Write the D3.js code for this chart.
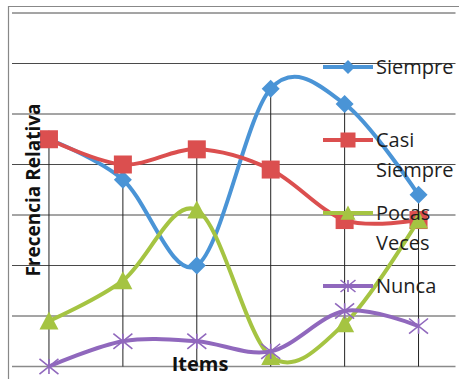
<!DOCTYPE html>
<html>
<head>
<meta charset="utf-8">
<script src="https://cdn.jsdelivr.net/npm/d3@7"></script>
<style>
  html, body { margin: 0; padding: 0; background: #fff; }
  svg { display: block; }
  text { font-family: "Open Sans", "DejaVu Sans", sans-serif; }
</style>
</head>
<body>
<script>
// Relative frequency of each answer per item
const items = ["Ítem 1", "Ítem 2", "Ítem 3", "Ítem 4", "Ítem 5", "Ítem 6"];
const siempre     = [0.45, 0.37, 0.20, 0.55, 0.52, 0.34];
const casiSiempre = [0.45, 0.40, 0.43, 0.39, 0.29, 0.29];
const pocasVeces  = [0.09, 0.17, 0.31, 0.02, 0.085, 0.29];
const nunca       = [0.00, 0.05, 0.05, 0.03, 0.11, 0.08];
const seriesNames = ["Siempre", "Casi Siempre", "Pocas Veces", "Nunca"];
const yTicks = [0, 0.1, 0.2, 0.3, 0.4, 0.5, 0.6, 0.7];

const series = [
  { name: seriesNames[0], values: siempre,     color: "#4A94D6", marker: "diamond" },
  { name: seriesNames[1], values: casiSiempre, color: "#DB4F4F", marker: "square" },
  { name: seriesNames[2], values: pocasVeces,  color: "#A5C442", marker: "triangle" },
  { name: seriesNames[3], values: nunca,       color: "#9068BD", marker: "cross" }
];

const W = 459, H = 379;
const svg = d3.select("body").append("svg").attr("width", W).attr("height", H);

const plot = { left: 12, right: 455.5, top: 13, bottom: 366.5 };
const x = d3.scaleBand().domain(items).range([plot.left, plot.right]).padding(0);
const cx = d => x(d) + x.bandwidth() / 2;
const y = d3.scaleLinear().domain([0, 0.7]).range([plot.bottom, plot.top]);

// chart area border (left and top edges)
svg.append("path")
  .attr("d", `M8.5,${H} V6.5 H${W}`)
  .attr("fill", "none").attr("stroke", "#888").attr("stroke-width", 1.2);

// horizontal gridlines
svg.append("g").selectAll("line").data(yTicks).join("line")
  .attr("x1", plot.left).attr("x2", plot.right)
  .attr("y1", d => y(d)).attr("y2", d => y(d))
  .attr("stroke", d => d === 0 ? "#8a8a8a" : "#4a4a4a")
  .attr("stroke-width", d => d === 0 ? 1.5 : 1);

// drop lines from the highest point of each item down to the axis
svg.append("g").selectAll("line").data(items).join("line")
  .attr("x1", d => cx(d)).attr("x2", d => cx(d))
  .attr("y1", (d, i) => y(d3.max(series, s => s.values[i])))
  .attr("y2", y(0))
  .attr("stroke", "#222").attr("stroke-width", 1);

const line = d3.line()
  .x((v, i) => cx(items[i]))
  .y(v => y(v))
  .curve(d3.curveCardinal.tension(0));

function drawMarker(g, type, color, size) {
  if (type === "diamond") {
    const r = size / 2;
    g.append("path").attr("d", `M0,${-r} L${r},0 L0,${r} L${-r},0 Z`).attr("fill", color);
  } else if (type === "square") {
    g.append("rect").attr("x", -size / 2).attr("y", -size / 2)
      .attr("width", size).attr("height", size).attr("fill", color);
  } else if (type === "triangle") {
    const r = size / 2;
    g.append("path").attr("d", `M0,${-r} L${r},${r * 0.9} L${-r},${r * 0.9} Z`).attr("fill", color);
  } else {
    const r = size / 2;
    g.append("path").attr("d", `M${-r},${-r * 0.8} L${r},${r * 0.8} M${-r},${r * 0.8} L${r},${-r * 0.8} M0,${-r * 0.8} V${r * 0.8}`)
      .attr("stroke", color).attr("stroke-width", 1.6).attr("fill", "none");
  }
}

const markerSize = { diamond: 18, square: 18, triangle: 19, cross: 19 };

series.forEach(s => {
  const g = svg.append("g");
  g.append("path").datum(s.values)
    .attr("d", line)
    .attr("fill", "none").attr("stroke", s.color)
    .attr("stroke-width", 4).attr("stroke-linejoin", "round");
  s.values.forEach((v, i) => {
    const m = g.append("g").attr("transform", `translate(${cx(items[i])},${y(v)})`);
    drawMarker(m, s.marker, s.color, markerSize[s.marker]);
  });
});

// axis titles
svg.append("text")
  .attr("transform", `translate(40,190) rotate(-90)`)
  .attr("text-anchor", "middle")
  .attr("font-size", 19).attr("font-weight", "bold").attr("fill", "#111")
  .text("Frecencia Relativa");

svg.append("text")
  .attr("x", 200).attr("y", 370.5)
  .attr("text-anchor", "middle")
  .attr("font-size", 20).attr("font-weight", "bold").attr("fill", "#111")
  .text("Items");

// legend
const legendY = d3.scalePoint().domain(seriesNames).range([67, 286]);
const legend = svg.append("g");
series.forEach(s => {
  const gy = legendY(s.name);
  const g = legend.append("g").attr("transform", `translate(0,${gy})`);
  g.append("line").attr("x1", 323).attr("x2", 373).attr("y1", 0).attr("y2", 0)
    .attr("stroke", s.color).attr("stroke-width", 4);
  const m = g.append("g").attr("transform", "translate(348,0)");
  drawMarker(m, s.marker, s.color, s.marker === "diamond" ? 14 : 15);
  const words = s.name.split(" ");
  const t = g.append("text").attr("x", 376).attr("y", 7)
    .attr("font-size", 20).attr("fill", "#1e1e1e");
  words.forEach((w, k) => {
    t.append("tspan").attr("x", 376).attr("dy", k === 0 ? 0 : 29.5).text(w);
  });
});
</script>
</body>
</html>
